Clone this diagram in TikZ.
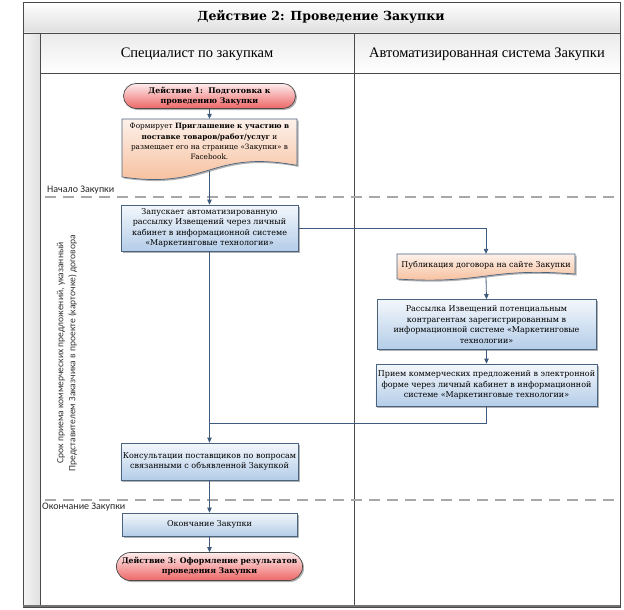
\documentclass[tikz,border=0pt]{standalone}
\usepackage{fontspec}
\setmainfont{DejaVu Serif}
\newfontfamily\labfont{Carlito}
\newfontfamily\hdrfont{Liberation Serif}
\usetikzlibrary{shapes.misc,shadows,arrows.meta}

\definecolor{lineblue}{HTML}{3D5A7D}
\definecolor{boxedge}{HTML}{4A6480}
\definecolor{procTop}{HTML}{F3F7FC}
\definecolor{procBot}{HTML}{B4CDE8}
\definecolor{docTop}{HTML}{FDF1EA}
\definecolor{docBot}{HTML}{F6B993}
\definecolor{termTop}{HTML}{FDECEC}
\definecolor{termBot}{HTML}{EE6666}
\definecolor{frameCol}{HTML}{4A4A4A}
\definecolor{phaseCol}{HTML}{A8A8A8}

\newcommand{\docshape}[4]{% L T R h
  \fill[black, opacity=0.3, shift={(1.5,1.5)}] (#1,#2) -- (#3,#2) -- (#3,{#2+0.72*#4}) .. controls ({(#1+#3)/2},{#2+0.47*#4}) and ({(#1+#3)/2},{#2+1.1*#4}) .. (#1,{#2+0.9*#4}) -- cycle;
  \shade[top color=docTop, bottom color=docBot, draw=boxedge, line width=0.7pt] (#1,#2) -- (#3,#2) -- (#3,{#2+0.72*#4}) .. controls ({(#1+#3)/2},{#2+0.47*#4}) and ({(#1+#3)/2},{#2+1.1*#4}) .. (#1,{#2+0.9*#4}) -- cycle;
}

\begin{document}
\begin{tikzpicture}[x=1pt,y=-1pt,
  every node/.style={inner sep=2pt},
  bodyfont/.style={font=\fontsize{8}{10.5}\selectfont},
  proc/.style={rectangle, draw=boxedge, line width=0.7pt, top color=procTop, bottom color=procBot, align=center, bodyfont,
    drop shadow={shadow xshift=1.5pt, shadow yshift=-1.5pt, opacity=0.3, fill=black}},
  term/.style={rounded rectangle, draw=frameCol, line width=0.7pt, top color=termTop, bottom color=termBot, align=center,
    font=\bfseries\fontsize{7.8}{10}\selectfont,
    drop shadow={shadow xshift=1.5pt, shadow yshift=-1.5pt, opacity=0.3, fill=black}},
  docnode/.style={rectangle, align=center, bodyfont},
  flow/.style={draw=lineblue, line width=0.8pt, -{Triangle[width=4.5pt,length=5pt]}},
  link/.style={draw=lineblue, line width=0.8pt},
  phase/.style={draw=phaseCol, line width=1.5pt, dash pattern=on 11pt off 7pt},
  phaselabel/.style={font=\labfont\fontsize{10}{12}\selectfont, anchor=west, text=black!85},
  lanehdr/.style={font=\hdrfont\fontsize{14.5}{16}\selectfont},
  framel/.style={draw=frameCol, line width=0.9pt}
]
\useasboundingbox (0,0) rectangle (624,610);

% backgrounds of the pool
\shade[top color=white, bottom color=black!13] (23,2) rectangle (620,33);
\shade[top color=black!8, bottom color=white] (40,33) rectangle (620,73);
\shade[left color=black!4, right color=black!12] (23,33) rectangle (40,607);

% frame
\draw[framel] (23,2) rectangle (620,607);
\draw[framel] (23,33) -- (620,33);
\draw[framel] (40,73) -- (620,73);
\draw[framel] (40,33) -- (40,607);
\draw[framel] (354,33) -- (354,607);
\draw[draw=black!55, line width=2.5pt] (23,606) -- (620,606);

% titles
\node[font=\bfseries\fontsize{12.5}{14}\selectfont] (title) at (321,17) {Действие 2: Проведение Закупки};
\node[lanehdr] (lane1) at (197,54) {Специалист по закупкам};
\node[lanehdr] (lane2) at (487,54) {Автоматизированная система Закупки};

% phases
\draw[phase] (45,197) -- (620,197);
\draw[phase] (45,500) -- (620,500);
\node[phaselabel] (ph1) at (45,190) {Начало Закупки};
\node[phaselabel] (ph2) at (40,507) {Окончание Закупки};
\node[rotate=90, align=center, font=\labfont\fontsize{9.6}{12}\selectfont, text=black!80] (dur) at (67,353)
  {Срок приема коммерческих предложений, указанный\\Представителем Заказчика в проекте (карточке) договора};

% nodes
\node[term, minimum width=176pt, minimum height=25pt] (n1) at (209.5,96)
  {Действие 1:\ \ Подготовка к\\проведению Закупки};

\docshape{122}{119}{297}{64.4}
\node[docnode, minimum width=175pt, minimum height=52pt, text depth=7pt, font=\fontsize{7.3}{10.3}\selectfont] (n2) at (209.5,145)
  {Формирует \textbf{Приглашение к участию в}\\\textbf{поставке товаров/работ/услуг} и\\размещает его на странице «Закупки» в\\Facebook.};

\node[proc, minimum width=177pt, minimum height=46pt] (n3) at (209.5,228)
  {Запускает автоматизированную\\рассылку Извещений через личный\\кабинет в информационной системе\\«Маркетинговые технологии»};

\docshape{397}{254}{575}{27.8}
\node[docnode, minimum width=178pt, minimum height=22.5pt] (n4) at (486,265.3)
  {Публикация договора на сайте Закупки};

\node[proc, minimum width=219pt, minimum height=50pt] (n5) at (486.5,324.5)
  {Рассылка Извещений потенциальным\\контрагентам зарегистрированным в\\информационной системе «Маркетинговые\\технологии»};

\node[proc, minimum width=220pt, minimum height=42pt] (n6) at (486.5,385)
  {Прием коммерческих предложений в электронной\\форме через личный кабинет в информационной\\системе «Маркетинговые технологии»};

\node[proc, minimum width=177pt, minimum height=37pt] (n7) at (209.5,461.5)
  {Консультации поставщиков по вопросам\\связанными с объявленной Закупкой};

\node[proc, minimum width=175pt, minimum height=23pt] (n8) at (209.5,524.5)
  {Окончание Закупки};

\node[term, minimum width=176pt, minimum height=28pt] (n9) at (209.5,566.5)
  {Действие 3: Оформление результатов\\проведения Закупки};

% connectors
\coordinate (j) at (209.5,423);
\draw[flow] (n1.south) -- (n2.north);
\draw[flow] (n2.south) -- (n3.north);
\draw[flow] (n3.east) -| (n4.north);
\draw[flow] (n4.south) -- (n5.north);
\draw[flow] (n5.south) -- (n6.north);
\draw[flow] (n3.south) -- (n7.north);
\draw[link] (n6.south) |- (j);
\draw[flow] (n7.south) -- (n8.north);
\draw[flow] (n8.south) -- (n9.north);
\end{tikzpicture}
\end{document}
